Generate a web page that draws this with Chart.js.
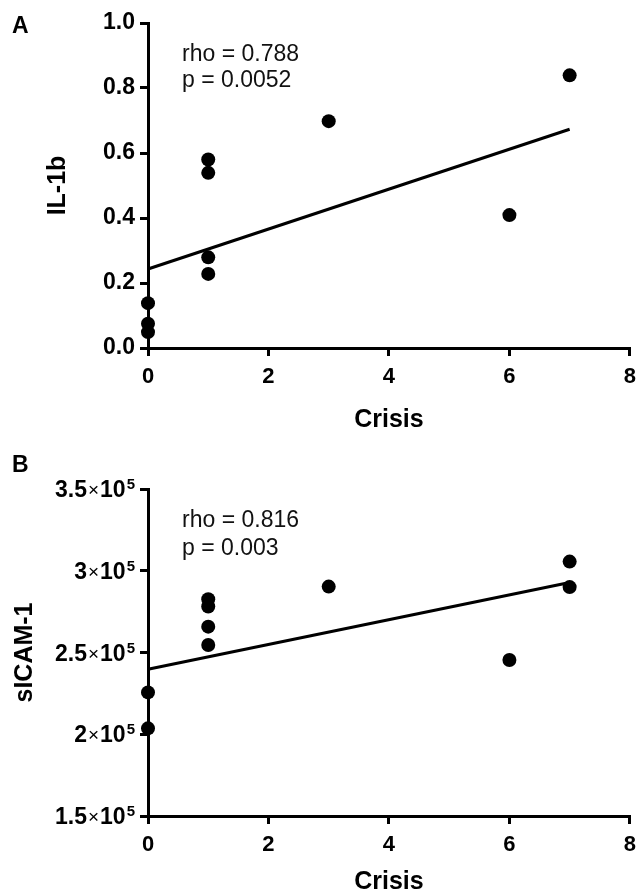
<!DOCTYPE html>
<html><head><meta charset="utf-8">
<script src="https://cdn.jsdelivr.net/npm/chart.js@4.4.1/dist/chart.umd.min.js"></script>
<style>
html,body{margin:0;padding:0;background:#fff;}
#wrap{position:relative;width:644px;height:893px;overflow:hidden;background:#fff;}
.box{position:absolute;left:0;width:644px;}
#boxA{top:0;height:446px;}
#boxB{top:446px;height:447px;}
</style></head><body>
<div id="wrap">
<div class="box" id="boxA"><canvas id="cA"></canvas></div>
<div class="box" id="boxB"><canvas id="cB"></canvas></div>
</div>
<script>
// ---- Data ----
const xTickLabels = ['0', '2', '4', '6', '8'];

// Panel A: IL-1b vs Crisis
const crisisA = [0, 0, 0, 1, 1, 1, 1, 3, 6, 7];
const il1b    = [0.138, 0.075, 0.049, 0.580, 0.539, 0.279, 0.228, 0.698, 0.409, 0.839];
const fitXA   = [0, 7];
const fitYA   = [0.243, 0.673];
const yTickLabelsA = ['0.0', '0.2', '0.4', '0.6', '0.8', '1.0'];
const statsA  = ['rho = 0.788', 'p = 0.0052'];

// Panel B: sICAM-1 vs Crisis
const crisisB = [0, 0, 1, 1, 1, 1, 3, 6, 7, 7];
const sicam1  = [225600, 203600, 282600, 278100, 265800, 254600, 290300, 245400, 305600, 290000];
const fitXB   = [0, 7];
const fitYB   = [239700, 292800];
const yTickMantissaB = ['1.5', '2', '2.5', '3', '3.5'];
const yTickExponentB = '5';
const statsB  = ['rho = 0.816', 'p = 0.003'];

const FONT = '"Liberation Sans", Arial, Helvetica, sans-serif';
Chart.defaults.font.family = FONT;
Chart.defaults.color = '#000';
Chart.defaults.animation = false;

function annotPlugin(id, panel, panelY, lines, ys) {
  return {
    id,
    afterDraw(chart) {
      const ctx = chart.ctx;
      ctx.save();
      ctx.fillStyle = '#000';
      ctx.textAlign = 'left';
      ctx.textBaseline = 'alphabetic';
      ctx.font = 'bold 23px ' + FONT;
      ctx.fillText(panel, 12, panelY);
      ctx.fillStyle = '#111';
      ctx.font = '23px ' + FONT;
      lines.forEach((t, i) => ctx.fillText(t, 182, ys[i]));
      ctx.restore();
    }
  };
}

// Scientific-notation tick labels (mantissa × 10^exp) drawn at the y scale's own tick positions
const sciTickPlugin = {
  id: 'sciTicks',
  afterDraw(chart) {
    const ctx = chart.ctx, sc = chart.scales.y;
    const right = sc.right - 8 - 5;
    ctx.save();
    ctx.fillStyle = '#000';
    ctx.textBaseline = 'alphabetic';
    ctx.textAlign = 'left';
    sc.ticks.forEach((t, i) => {
      const y = sc.getPixelForValue(t.value) + 8;
      const parts = [
        {s: yTickMantissaB[i], f: 'bold 23px ' + FONT, dy: 0, gap: 1},
        {s: '×', f: '19px ' + FONT, dy: -1, gap: 1},
        {s: '10', f: 'bold 23px ' + FONT, dy: 0, gap: 1},
        {s: yTickExponentB, f: 'bold 15px ' + FONT, dy: -8, gap: 0}
      ];
      let w = 0;
      parts.forEach(p => { ctx.font = p.f; p.w = ctx.measureText(p.s).width; w += p.w + p.gap; });
      let x = right - w;
      parts.forEach(p => {
        ctx.font = p.f;
        ctx.fillText(p.s, x, y + p.dy);
        x += p.w + p.gap;
      });
    });
    ctx.restore();
  }
};

function build(canvasId, xs, ys, fx, fy, yScale, padTop, xAxisH, xTitlePadB, yTitle, yTitlePadT, plugins) {
  return new Chart(document.getElementById(canvasId), {
    type: 'scatter',
    data: {
      datasets: [
        {
          data: xs.map((x, i) => ({x: x, y: ys[i]})),
          backgroundColor: '#000', borderColor: '#000',
          pointRadius: 7, pointHoverRadius: 7, borderWidth: 0,
          clip: false, order: 0
        },
        {
          data: fx.map((x, i) => ({x: x, y: fy[i]})),
          showLine: true, borderColor: '#000', borderWidth: 3,
          pointRadius: 0, pointHoverRadius: 0, fill: false,
          clip: false, order: 1
        }
      ]
    },
    options: {
      responsive: true, maintainAspectRatio: false, animation: false,
      events: [],
      layout: {padding: {top: padTop, right: 8, left: 0, bottom: 0}},
      plugins: {legend: {display: false}, tooltip: {enabled: false}},
      scales: {
        x: {
          type: 'linear', min: 0, max: 8,
          ticks: {
            stepSize: 2, padding: 8, color: '#000',
            font: {size: 22, weight: 'bold'},
            callback: (v, i) => xTickLabels[i]
          },
          grid: {drawOnChartArea: false, drawTicks: true, tickLength: 8, color: '#000', lineWidth: 3},
          border: {display: true, color: '#000', width: 3},
          title: {display: true, text: 'Crisis', color: '#000', font: {size: 25, weight: 'bold'}, padding: {top: 0, bottom: xTitlePadB}},
          afterFit(s) { s.height = xAxisH; }
        },
        y: Object.assign({
          type: 'linear',
          grid: {drawOnChartArea: false, drawTicks: true, tickLength: 8, color: '#000', lineWidth: 3},
          border: {display: true, color: '#000', width: 3},
          title: {display: true, text: yTitle, color: '#000', font: {size: 25, weight: 'bold'}, padding: {top: yTitlePadT, bottom: 0}},
          afterFit(s) { s.width = 148; }
        }, yScale)
      }
    },
    plugins: plugins
  });
}

build('cA', crisisA, il1b, fitXA, fitYA, {
  min: 0, max: 1,
  ticks: {stepSize: 0.2, padding: 5, color: '#000', font: {size: 23, weight: 'bold'}, callback: (v, i) => yTickLabelsA[i]}
}, 23, 98, 11, 'IL-1b', 43, [annotPlugin('annA', 'A', 33, statsA, [61, 87])]);

build('cB', crisisB, sicam1, fitXB, fitYB, {
  min: 150000, max: 350000,
  ticks: {display: false, stepSize: 50000}
}, 43, 77, -4, 'sICAM-1', 10, [sciTickPlugin, annotPlugin('annB', 'B', 26, statsB, [81, 109])]);
</script>
</body></html>
